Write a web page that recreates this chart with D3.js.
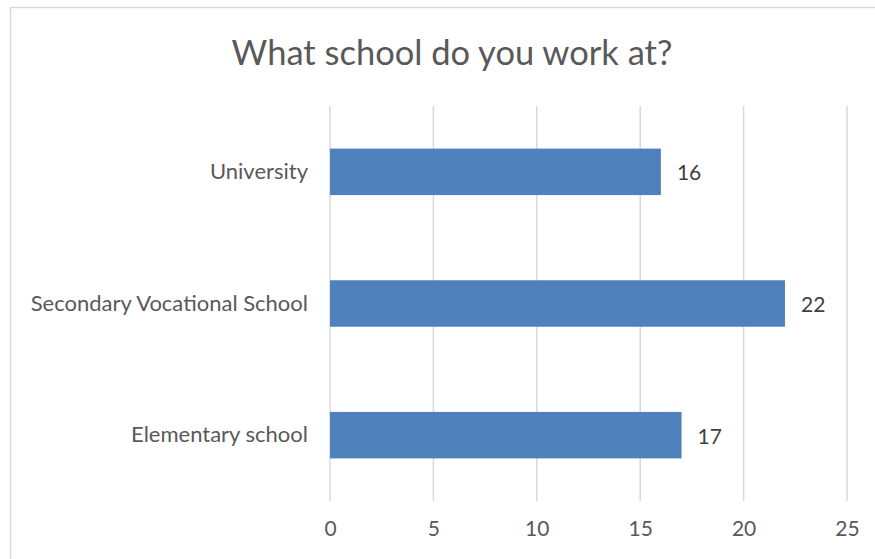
<!DOCTYPE html>
<html>
<head>
<meta charset="utf-8">
<script src="https://cdnjs.cloudflare.com/ajax/libs/d3/7.8.5/d3.min.js"></script>
<style>
  body { margin: 0; background: #fff; }
  text { font-family: Lato, "Open Sans", sans-serif; }
</style>
</head>
<body>
<svg id="chart"></svg>
<script>
// data, top to bottom as shown
const categories = ["University", "Secondary Vocational School", "Elementary school"]
const counts = [16, 22, 17]
const ticks = [0, 5, 10, 15, 20, 25]
const title = "What school do you work at?"

const width = 875, height = 559
const plot = {left: 330, right: 847, top: 106, bottom: 501}

const svg = d3.select("#chart")
  .attr("width", width)
  .attr("height", height)

// chart frame
svg.append("rect")
  .attr("x", 10.5).attr("y", 7.5)
  .attr("width", 900).attr("height", 600)
  .attr("fill", "#fff")
  .attr("stroke", "#d9d9d9")
  .attr("stroke-width", 1.5)

const x = d3.scaleLinear().domain([0, 25]).range([plot.left, plot.right])
const y = d3.scaleBand()
  .domain(categories)
  .range([plot.top, plot.bottom])
  .paddingInner(0.647)
  .paddingOuter(0.3235)

svg.append("text")
  .attr("x", 452).attr("y", 51)
  .attr("text-anchor", "middle")
  .attr("dominant-baseline", "central")
  .attr("fill", "#595959")
  .style("font-size", "34.5px")
  .text(title)

// gridlines
svg.append("g")
  .selectAll("line")
  .data(ticks)
  .join("line")
  .attr("x1", d => x(d)).attr("x2", d => x(d))
  .attr("y1", plot.top).attr("y2", plot.bottom)
  .attr("stroke", "#d9d9d9")
  .attr("stroke-width", 1.5)

// x axis labels
const xAxis = svg.append("g")
  .attr("transform", `translate(0,${plot.bottom})`)
  .call(d3.axisBottom(x).tickValues(ticks).tickSize(0).tickPadding(20))
xAxis.select(".domain").remove()
xAxis.selectAll("text")
  .attr("fill", "#595959")
  .style("font-size", "21px")
  .style("font-family", "Lato, 'Open Sans', sans-serif")

// category labels
const yAxis = svg.append("g")
  .attr("transform", `translate(${plot.left},0)`)
  .call(d3.axisLeft(y).tickSize(0).tickPadding(22))
yAxis.select(".domain").remove()
yAxis.selectAll("text")
  .attr("fill", "#595959")
  .style("font-size", "22px")
  .style("font-family", "Lato, 'Open Sans', sans-serif")

// bars
svg.append("g")
  .selectAll("rect")
  .data(categories)
  .join("rect")
  .attr("x", x(0))
  .attr("y", d => y(d))
  .attr("width", (d, i) => x(counts[i]) - x(0))
  .attr("height", y.bandwidth())
  .attr("fill", "#4f81bd")

// value labels
svg.append("g")
  .selectAll("text")
  .data(categories)
  .join("text")
  .attr("x", (d, i) => x(counts[i]) + 16)
  .attr("y", d => y(d) + y.bandwidth() / 2)
  .attr("dominant-baseline", "central")
  .attr("fill", "#404040")
  .style("font-size", "21px")
  .text((d, i) => counts[i])
</script>
</body>
</html>
